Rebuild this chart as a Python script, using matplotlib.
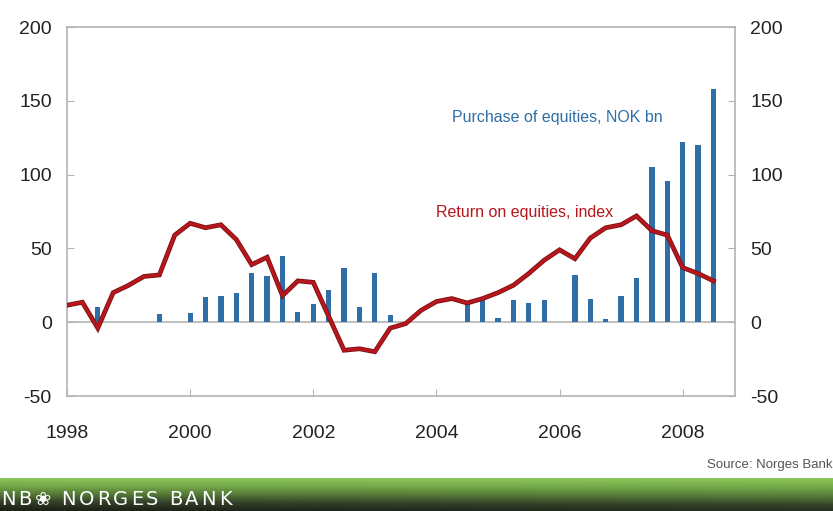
import numpy as np
import matplotlib.pyplot as plt
from matplotlib.colors import LinearSegmentedColormap

plt.rcParams["font.family"] = ["Liberation Sans", "DejaVu Sans"]
plt.rcParams["axes.unicode_minus"] = False

# quarterly observations, 1998 Q1 .. 2008 Q3
quarters = [1998 + 0.25 * i for i in range(43)]

purchase_nok_bn = [0, 0, 10, 0, 0, 0, 5.5, 0, 6, 17,
                   18, 20, 33, 31, 45, 7, 12, 22, 37, 10,
                   33, 5, 0, 0, 0, 0, 14, 15, 3, 15,
                   13, 15, 0, 32, 16, 2, 18, 30, 105, 96,
                   122, 120, 158]

return_index = [11.5, 13.5, -4, 20, 25, 31, 32, 59, 67, 64,
                66, 56, 39, 44, 18, 28, 27, 4, -19, -18,
                -20, -4, -1, 8, 14, 16, 13, 16, 20, 25,
                33, 42, 49, 43, 57, 64, 66, 72, 62, 59,
                37, 33, 28]

year_ticks = [1998, 2000, 2002, 2004, 2006, 2008]
value_ticks = [-50, 0, 50, 100, 150, 200]

BLUE = "#2f6ea6"
RED = "#b8161d"
GRAY = "#b4b4b4"

fig = plt.figure(figsize=(8.33, 5.11), dpi=100)
ax = fig.add_axes([67 / 833, 1 - 396 / 511, 668 / 833, 369 / 511])

ax.axhline(0, color=GRAY, lw=1.2, zorder=1)
ax.bar(quarters, purchase_nok_bn, width=0.085, color=BLUE, zorder=2)
ax.plot(quarters, return_index, color="#7a1012", lw=3.4, zorder=3,
        solid_joinstyle="miter")
ax.plot(quarters, return_index, color=RED, lw=2.2, zorder=4,
        solid_joinstyle="miter")

ax.set_xlim(1998, 2008.85)
ax.set_ylim(-50, 200)
ax.set_xticks(year_ticks)
ax.set_yticks(value_ticks)
ax.tick_params(axis="both", direction="in", length=5, color=GRAY,
               labelsize=14, labelcolor="#222222")
ax.tick_params(axis="x", pad=21)
ax.tick_params(axis="y", left=True, right=True, labelright=True, pad=11)
for sp in ax.spines.values():
    sp.set_color(GRAY)
    sp.set_linewidth(1.2)

ax.text(2004.25, 139, "Purchase of equities, NOK bn", color=BLUE,
        fontsize=11.5, ha="left", va="center")
ax.text(2004.0, 74, "Return on equities, index", color=RED,
        fontsize=11.5, ha="left", va="center")

fig.text(0.999, 1 - 465 / 511, "Source: Norges Bank", color="#555555",
         fontsize=9.5, ha="right", va="center")

# green banner at the bottom
banner = fig.add_axes([0, 0, 1, 33 / 511])
vert = np.linspace(0, 1, 64)[:, None]
horiz = np.linspace(0, 1, 256)[None, :]
shade = vert * 0.9 + (1 - horiz) * 0.15 * vert
green = LinearSegmentedColormap.from_list(
    "nb", ["#8cc65a", "#74a848", "#557a38", "#34422a", "#1e2419"])
banner.imshow(np.clip(shade, 0, 1), cmap=green, aspect="auto",
              extent=[0, 1, 0, 1], origin="upper")
banner.set_axis_off()
banner.set_xlim(0, 1)
banner.set_ylim(0, 1)

# spaced-out lettering of the bank name
fig.canvas.draw()
renderer = fig.canvas.get_renderer()
x_px = 1.0
for ch in "NB\u2740 NORGES BANK":
    t = fig.text(x_px / 833, 12 / 511, ch, color="white", fontsize=14,
                 ha="left", va="center", family=["DejaVu Sans"])
    w = t.get_window_extent(renderer).width
    x_px += w + (2.8 if ch != " " else 1.5)

fig.savefig("out.png", dpi=100)
